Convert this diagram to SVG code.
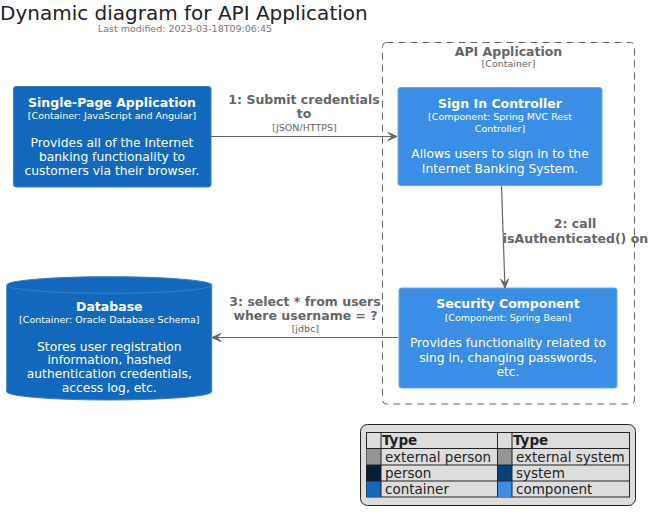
<svg xmlns="http://www.w3.org/2000/svg" width="656" height="520" viewBox="0 0 656 520">
<defs>
<style>
text{font-family:"DejaVu Sans","Liberation Sans",sans-serif}
.title{font-size:20px;fill:#222222}
.sub{font-size:9.5px;fill:#777777}
.nm{font-size:12.5px;font-weight:bold;fill:#ffffff;text-anchor:middle}
.tp{font-size:9.5px;fill:#ffffff;text-anchor:middle}
.ds{font-size:12.3px;fill:#ffffff;text-anchor:middle}
.lbl{font-size:12.5px;font-weight:bold;fill:#666666;text-anchor:middle}
.tech{font-size:9.5px;fill:#666666;text-anchor:middle}
.bnm{font-size:12.5px;font-weight:bold;fill:#666666;text-anchor:middle}
.btp{font-size:9.5px;fill:#666666;text-anchor:middle}
.cont{fill:#1168BD;stroke:#3C7FC0;stroke-width:1}
.comp{fill:#3A8EE5;stroke:#6AA7EA;stroke-width:1}
.conn{stroke:#666666;stroke-width:1.2;fill:none}
.ah{fill:#666666;stroke:#666666;stroke-width:1}
.lg{font-size:13.5px;fill:#222222}
.lgh{font-size:13.5px;font-weight:bold;fill:#222222}
.cell{stroke:#222222;stroke-width:1}
</style>
</defs>
<rect width="656" height="520" fill="#ffffff"/>
<g id="title">
<text class="title" x="0" y="19.5">Dynamic diagram for API Application</text>
<text class="sub" x="185" y="32.3" text-anchor="middle">Last modified: 2023-03-18T09:06:45</text>
</g>
<g id="boundary-api">
<rect x="382.5" y="42.5" width="252" height="361.5" rx="4" ry="4" fill="none" stroke="#666666" stroke-width="1" stroke-dasharray="7,5"/>
<text class="bnm" x="508.5" y="56">API Application</text>
<text class="btp" x="508.5" y="67.3">[Container]</text>
</g>
<g id="spa">
<rect class="cont" x="13.5" y="86.5" width="197.5" height="100.5" rx="2.5" ry="2.5"/>
<text class="nm" x="112" y="106.7">Single-Page Application</text>
<text class="tp" x="112" y="119">[Container: JavaScript and Angular]</text>
<text class="ds" x="112" y="146.7">Provides all of the Internet</text>
<text class="ds" x="112" y="160.7">banking functionality to</text>
<text class="ds" x="112" y="174.7">customers via their browser.</text>
</g>
<g id="signin">
<rect class="comp" x="398" y="87.5" width="204" height="98" rx="2.5" ry="2.5"/>
<text class="nm" x="500" y="107.7">Sign In Controller</text>
<text class="tp" x="500" y="120">[Component: Spring MVC Rest</text>
<text class="tp" x="500" y="131.7">Controller]</text>
<text class="ds" x="500" y="158.3">Allows users to sign in to the</text>
<text class="ds" x="500" y="172.7">Internet Banking System.</text>
</g>
<g id="security">
<rect class="comp" x="399" y="288" width="218" height="100" rx="2.5" ry="2.5"/>
<text class="nm" x="508" y="308.3">Security Component</text>
<text class="tp" x="508" y="321">[Component: Spring Bean]</text>
<text class="ds" x="508" y="347.3">Provides functionality related to</text>
<text class="ds" x="508" y="361.7">sing in, changing passwords,</text>
<text class="ds" x="508" y="375.5">etc.</text>
</g>
<g id="database">
<path class="cont" d="M6.7,285 A102.5,8.3 0 0 1 211.7,285 L211.7,391.7 A102.5,8.3 0 0 1 6.7,391.7 Z"/>
<path d="M6.7,285 A102.5,8.3 0 0 0 211.7,285" fill="none" stroke="#3C7FC0" stroke-width="1"/>
<text class="nm" x="109.3" y="310.7">Database</text>
<text class="tp" x="109.3" y="323.3">[Container: Oracle Database Schema]</text>
<text class="ds" x="109.3" y="350.7">Stores user registration</text>
<text class="ds" x="109.3" y="364.3">information, hashed</text>
<text class="ds" x="109.3" y="378.3">authentication credentials,</text>
<text class="ds" x="109.3" y="392.3">access log, etc.</text>
</g>
<g id="connectors">
<line class="conn" x1="211" y1="136.5" x2="396" y2="136.5"/>
<polygon class="ah" points="397,136.5 388,132.5 392,136.5 388,140.5"/>
<text class="lbl" x="304" y="104.3">1: Submit credentials</text>
<text class="lbl" x="304" y="118.3">to</text>
<text class="tech" x="304.5" y="130.7">[JSON/HTTPS]</text>
<line class="conn" x1="501.5" y1="186" x2="504.9" y2="286"/>
<polygon class="ah" points="505,288 508.6,278.9 504.8,283 500.6,279.2"/>
<text class="lbl" x="575" y="228.3">2: call</text>
<text class="lbl" x="575.5" y="243.3">isAuthenticated() on</text>
<line class="conn" x1="398" y1="337.5" x2="213" y2="337.5"/>
<polygon class="ah" points="212,337.5 221,333.5 217,337.5 221,341.5"/>
<text class="lbl" x="305" y="306">3: select * from users</text>
<text class="lbl" x="305.5" y="320">where username = ?</text>
<text class="tech" x="305.3" y="331.7">[jdbc]</text>
</g>
<g id="legend">
<rect x="360.5" y="424.5" width="275" height="81" rx="7" ry="7" fill="#DDDDDD" stroke="#222222" stroke-width="1"/>
<rect x="366.5" y="432.5" width="263" height="64.5" fill="#DDDDDD" stroke="#222222" stroke-width="1"/>
<rect x="366.5" y="448.5" width="14.5" height="16.5" fill="#959595"/>
<rect x="366.5" y="465" width="14.5" height="16" fill="#061D36"/>
<rect x="366.5" y="481" width="14.5" height="16" fill="#1168BD"/>
<rect x="497.5" y="448.5" width="14.5" height="16.5" fill="#959595"/>
<rect x="497.5" y="465" width="14.5" height="16" fill="#0B3F7A"/>
<rect x="497.5" y="481" width="14.5" height="16" fill="#3A8EE5"/>
<line class="cell" x1="366.5" y1="448.5" x2="629.5" y2="448.5"/>
<line class="cell" x1="366.5" y1="465" x2="629.5" y2="465"/>
<line class="cell" x1="366.5" y1="481" x2="629.5" y2="481"/>
<line class="cell" x1="381" y1="432.5" x2="381" y2="497"/>
<line class="cell" x1="497.5" y1="432.5" x2="497.5" y2="497"/>
<line class="cell" x1="512" y1="432.5" x2="512" y2="497"/>
<text class="lgh" x="382" y="445">Type</text>
<text class="lgh" x="513" y="445">Type</text>
<text class="lg" x="385" y="461.5">external person</text>
<text class="lg" x="385" y="477.8">person</text>
<text class="lg" x="385" y="493.5">container</text>
<text class="lg" x="516" y="461.5">external system</text>
<text class="lg" x="516" y="477.8">system</text>
<text class="lg" x="516" y="493.5">component</text>
</g>
</svg>
